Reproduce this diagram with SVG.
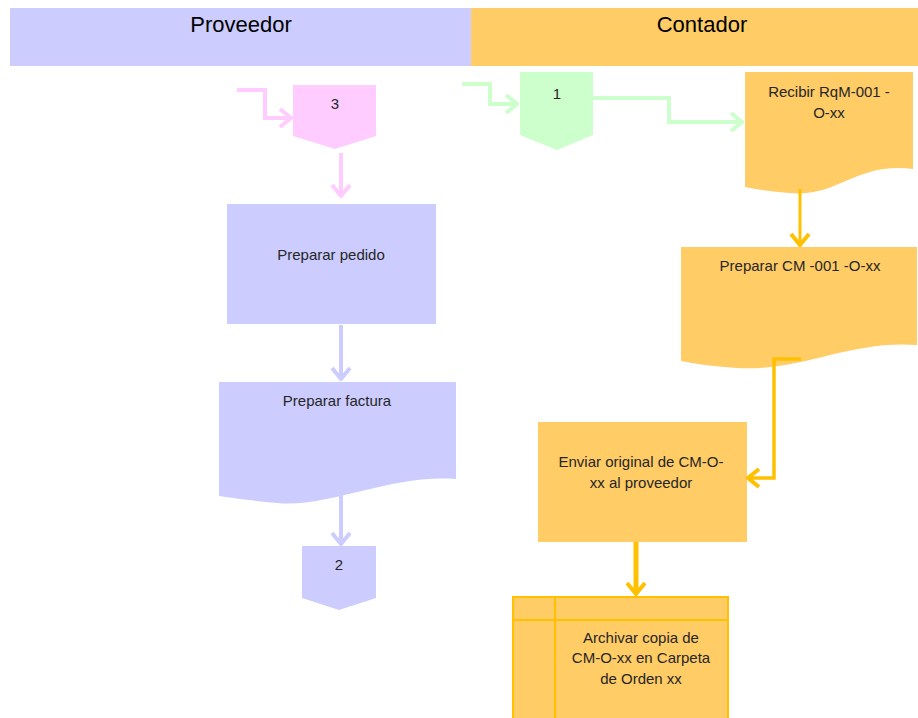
<svg xmlns="http://www.w3.org/2000/svg" width="918" height="718" viewBox="0 0 918 718">
  <defs>
    <style>
      .lbl { font-family: "Liberation Sans", Arial, sans-serif; font-size: 15px; fill: #262626; text-anchor: middle; }
      .hdr { font-family: "Liberation Sans", Arial, sans-serif; font-size: 22px; fill: #000; text-anchor: middle; }
      .purple { fill: #CCCCFF; }
      .orange { fill: #FFCC66; }
      .pink { fill: #FFCCFF; }
      .green { fill: #CCFFCC; }
      .ln { fill: none; stroke-linejoin: miter; }
    </style>
    <marker id="ahPink" markerUnits="userSpaceOnUse" viewBox="-14 -12 16 24" markerWidth="16" markerHeight="24" refX="0" refY="0" orient="auto">
      <path d="M-11,-9 L0,0 L-11,9" fill="none" stroke="#FFCCFF" stroke-width="4"/>
    </marker>
    <marker id="ahGreen" markerUnits="userSpaceOnUse" viewBox="-14 -12 16 24" markerWidth="16" markerHeight="24" refX="0" refY="0" orient="auto">
      <path d="M-11,-9 L0,0 L-11,9" fill="none" stroke="#CCFFCC" stroke-width="4"/>
    </marker>
    <marker id="ahPurple" markerUnits="userSpaceOnUse" viewBox="-14 -12 16 24" markerWidth="16" markerHeight="24" refX="0" refY="0" orient="auto">
      <path d="M-11,-9 L0,0 L-11,9" fill="none" stroke="#CCCCFF" stroke-width="4"/>
    </marker>
    <marker id="ahOrange" markerUnits="userSpaceOnUse" viewBox="-14 -12 16 24" markerWidth="16" markerHeight="24" refX="0" refY="0" orient="auto">
      <path d="M-11,-9 L0,0 L-11,9" fill="none" stroke="#FFC000" stroke-width="4"/>
    </marker>
  </defs>

  <rect width="918" height="718" fill="#FFFFFF"/>

  <!-- swimlane headers -->
  <g id="lane-proveedor">
    <rect x="10" y="8" width="461" height="58" class="purple"/>
    <text x="241" y="32" class="hdr">Proveedor</text>
  </g>
  <g id="lane-contador">
    <rect x="471" y="8" width="447" height="58" class="orange"/>
    <text x="702" y="32" class="hdr">Contador</text>
  </g>

  <!-- off-page connector 3 -->
  <g id="conn-3">
    <path d="M293,85 H376 V136 L335,149 L293,136 Z" class="pink"/>
    <text x="335" y="109" class="lbl" fill="#000">3</text>
  </g>

  <!-- off-page connector 1 -->
  <g id="conn-1">
    <path d="M520,72 H593 V135 L557,150 L520,135 Z" class="green"/>
    <text x="557" y="99" class="lbl">1</text>
  </g>

  <!-- Recibir RqM-001 -O-xx -->
  <g id="recibir">
    <path d="M745,72 H913 V169 C855,162 838,198 790,193 Q765,191 745,187 Z" class="orange"/>
    <text x="829" y="97" class="lbl">Recibir RqM-001 -</text>
    <text x="829" y="118" class="lbl">O-xx</text>
  </g>

  <!-- Preparar CM -001 -O-xx -->
  <g id="preparar-cm">
    <path d="M681,247 H917 V345 C850,340 800,372 737,368 Q705,366 681,361 Z" class="orange"/>
    <text x="800" y="271" class="lbl">Preparar CM -001 -O-xx</text>
  </g>

  <!-- Enviar original -->
  <g id="enviar">
    <rect x="538" y="422" width="209" height="120" class="orange"/>
    <text x="641" y="467" class="lbl">Enviar original de CM-O-</text>
    <text x="641" y="488" class="lbl">xx al proveedor</text>
  </g>

  <!-- Archivar copia -->
  <g id="archivar">
    <rect x="513" y="597" width="215" height="125" class="orange" stroke="#FFC000" stroke-width="2"/>
    <line x1="513" y1="620" x2="728" y2="620" stroke="#FFC000" stroke-width="2"/>
    <line x1="555" y1="597" x2="555" y2="718" stroke="#FFC000" stroke-width="2"/>
    <text x="641" y="643" class="lbl">Archivar copia de</text>
    <text x="641" y="663" class="lbl">CM-O-xx en Carpeta</text>
    <text x="641" y="684" class="lbl">de Orden xx</text>
  </g>

  <!-- Preparar pedido -->
  <g id="preparar-pedido">
    <rect x="227" y="204" width="209" height="120" class="purple"/>
    <text x="331" y="260" class="lbl">Preparar pedido</text>
  </g>

  <!-- Preparar factura -->
  <g id="preparar-factura">
    <path d="M219,382 H456 V479 C390,474 330,508 277,503 Q245,500 219,496 Z" class="purple"/>
    <text x="337" y="406" class="lbl">Preparar factura</text>
  </g>

  <!-- off-page connector 2 -->
  <g id="conn-2">
    <path d="M302,546 H376 V598 L339,610 L302,598 Z" class="purple"/>
    <text x="339" y="570" class="lbl" fill="#000">2</text>
  </g>

  <!-- connectors, drawn over the shapes -->
  <g id="connectors" class="ln">
    <path d="M237,90 H265 V118 H291" stroke="#FFCCFF" stroke-width="4" marker-end="url(#ahPink)" fill="none"/>
    <path d="M341,153 V196" stroke="#FFCCFF" stroke-width="4" marker-end="url(#ahPink)" fill="none"/>
    <path d="M462,84 H490 V104 H517" stroke="#CCFFCC" stroke-width="4" marker-end="url(#ahGreen)" fill="none"/>
    <path d="M593,98 H669 V122 H742" stroke="#CCFFCC" stroke-width="4" marker-end="url(#ahGreen)" fill="none"/>
    <path d="M341,325 V379" stroke="#CCCCFF" stroke-width="4" marker-end="url(#ahPurple)" fill="none"/>
    <path d="M341,495 V544" stroke="#CCCCFF" stroke-width="4" marker-end="url(#ahPurple)" fill="none"/>
    <path d="M800,189 V245" stroke="#FFC000" stroke-width="3" marker-end="url(#ahOrange)" fill="none"/>
    <path d="M801,359 H774 V478 H748" stroke="#FFC000" stroke-width="3.5" marker-end="url(#ahOrange)" fill="none"/>
    <path d="M636,542 V594" stroke="#FFC000" stroke-width="5" marker-end="url(#ahOrange)" fill="none"/>
  </g>
</svg>
